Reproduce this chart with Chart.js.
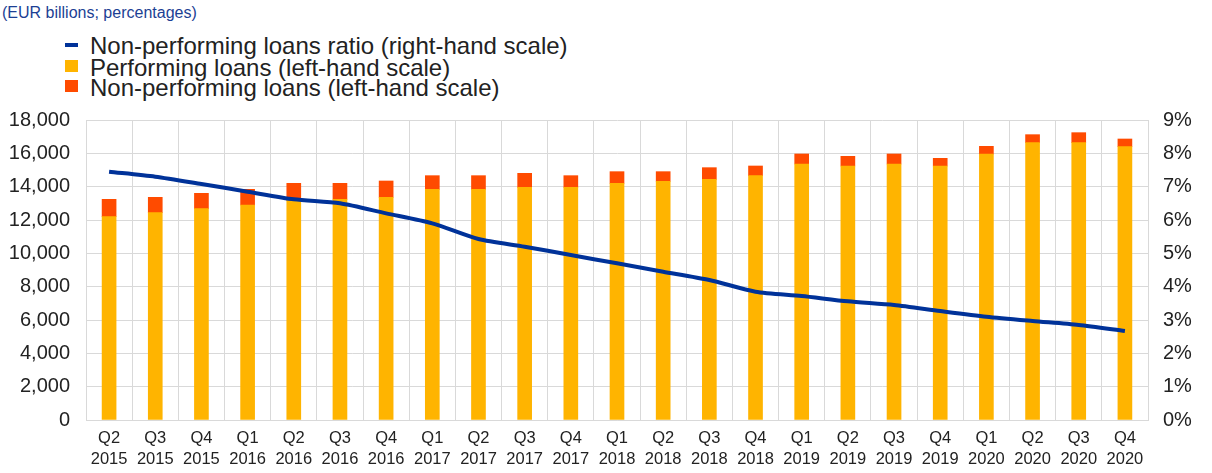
<!DOCTYPE html>
<html>
<head>
<meta charset="utf-8">
<script src="https://cdn.jsdelivr.net/npm/chart.js@4/dist/chart.umd.min.js"></script>
<style>
  body { margin: 0; background: #fff; }
  #wrap { position: relative; width: 1212px; height: 473px; font-family: "Liberation Sans", Arial, sans-serif; }
  #title { position: absolute; left: 2px; top: 4px; font-size: 16px; color: #1c3f94; }
  .leg { position: absolute; left: 90px; font-size: 24px; color: #222; line-height: 22px; white-space: nowrap; }
  .mk { position: absolute; left: 65px; width: 13px; }
  canvas { position: absolute; left: 0; top: 0; }
</style>
</head>
<body>
<div id="wrap">
  <div id="title">(EUR billions; percentages)</div>
  <div class="mk" style="top:43px;height:4px;background:#003299"></div>
  <div class="leg" style="top:35px">Non-performing loans ratio (right-hand scale)</div>
  <div class="mk" style="top:60px;height:12px;background:#FFB400"></div>
  <div class="leg" style="top:57px">Performing loans (left-hand scale)</div>
  <div class="mk" style="top:80px;height:12px;background:#FF4B00"></div>
  <div class="leg" style="top:77px">Non-performing loans (left-hand scale)</div>
  <canvas id="chart-area" width="1212" height="473"></canvas>
</div>
<script>
'use strict';

var quarters = ['Q2','Q3','Q4','Q1','Q2','Q3','Q4','Q1','Q2','Q3','Q4','Q1','Q2','Q3','Q4','Q1','Q2','Q3','Q4','Q1','Q2','Q3','Q4'];
var years = ['2015','2015','2015','2016','2016','2016','2016','2017','2017','2017','2017','2018','2018','2018','2018','2019','2019','2019','2019','2020','2020','2020','2020'];
var performing = [12200,12440,12680,12900,13180,13240,13360,13840,13840,13960,13960,14200,14320,14440,14660,15360,15240,15360,15240,15960,16640,16640,16400];
var nonPerforming = [1040,920,920,940,1020,960,980,820,820,840,700,700,580,700,580,600,580,600,460,460,480,600,460];
var nplRatio = [7.45,7.3,7.08,6.85,6.62,6.5,6.2,5.9,5.43,5.2,4.95,4.7,4.45,4.2,3.85,3.72,3.56,3.45,3.27,3.1,2.97,2.85,2.67];

var labels = quarters.map(function (q, i) { return [q, years[i]]; });
var gridColor = '#d9d9d9';
var textColor = '#222';
var fontFamily = '"Liberation Sans", Arial, sans-serif';

var config = {
  type: 'bar',
  data: {
    labels: labels,
    datasets: [{
      type: 'line',
      label: 'Non-performing loans ratio (right-hand scale)',
      data: nplRatio,
      yAxisID: 'y1',
      borderColor: '#003299',
      backgroundColor: '#003299',
      borderWidth: 4,
      pointRadius: 0,
      tension: 0.25,
      order: 0
    }, {
      label: 'Performing loans (left-hand scale)',
      data: performing,
      backgroundColor: '#FFB400',
      yAxisID: 'y',
      barThickness: 14,
      order: 1
    }, {
      label: 'Non-performing loans (left-hand scale)',
      data: nonPerforming,
      backgroundColor: '#FF4B00',
      yAxisID: 'y',
      barThickness: 14,
      order: 1
    }]
  },
  options: {
    responsive: false,
    animation: false,
    layout: { padding: { top: 120, left: 0, right: 0, bottom: 0 } },
    plugins: { legend: { display: false }, tooltip: { enabled: false } },
    scales: {
      x: {
        stacked: true,
        grid: { color: gridColor, drawTicks: false, offset: true },
        border: { color: gridColor },
        ticks: {
          color: textColor, autoSkip: false, maxRotation: 0, padding: 7,
          font: { family: fontFamily, size: 16.5, lineHeight: 1.33 }
        },
        afterFit: function (s) { s.height = 53; }
      },
      y: {
        stacked: true,
        position: 'left',
        min: 0, max: 18000,
        grid: { color: gridColor, drawTicks: false },
        border: { color: gridColor },
        ticks: {
          stepSize: 2000, color: textColor, padding: 16,
          font: { family: fontFamily, size: 20 },
          callback: function (v) { return v.toLocaleString('en-US'); }
        },
        afterFit: function (s) { s.width = 86; }
      },
      y1: {
        position: 'right',
        min: 0, max: 9,
        grid: { drawOnChartArea: false, drawTicks: false },
        border: { display: false },
        ticks: {
          stepSize: 1, color: textColor, padding: 15,
          font: { family: fontFamily, size: 20 },
          callback: function (v) { return v + '%'; }
        },
        afterFit: function (s) { s.width = 64; }
      }
    }
  }
};

window.onload = function () {
  var ctx = document.getElementById('chart-area').getContext('2d');
  window.myChart = new Chart(ctx, config);
};
</script>
</body>
</html>
